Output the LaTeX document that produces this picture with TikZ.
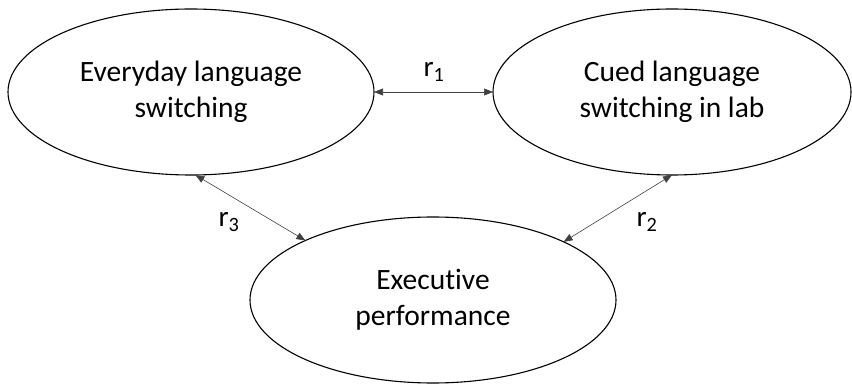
\documentclass[tikz,border=0pt]{standalone}
\usepackage{fontspec}
\setmainfont[Ligatures=NoCommon]{Carlito}
\usetikzlibrary{shapes.geometric,arrows.meta}

\begin{document}
\begin{tikzpicture}[x=1pt,y=-1pt]
			\tikzset{latent/.style={draw,ellipse,line width=1.1pt,minimum width=366pt,minimum height=166pt,
					inner sep=0pt,outer sep=0pt,align=center,font=\fontsize{29.5}{36}\selectfont}}
			\tikzset{corr/.style={{Triangle[length=9pt,width=7pt]}-{Triangle[length=9pt,width=7pt]},line width=0.6pt,draw=black!75}}
			\tikzset{rlab/.style={font=\fontsize{29}{30}\selectfont,inner sep=0pt}}
			%
			\useasboundingbox (0,0) rectangle (852,387);
			%
			\node[latent] (everyday) at (191,92) {Everyday language\\switching};
			\node[latent,minimum width=358pt] (cued) at (672,92) {Cued language\\switching in lab};
			\node[latent] (exec) at (433,300) {Executive\\performance};
			%
			\draw[corr] (everyday.east) -- (cued.west);
			\draw[corr] (everyday.-87) -- (exec.155);
			\draw[corr] (cued.-90) -- (exec.24);
			%
			\node[rlab] (r1) at (434,72) {r\textsubscript{1}};
			\node[rlab] (r3) at (229,222) {r\textsubscript{3}};
			\node[rlab] (r2) at (647,222) {r\textsubscript{2}};
			%
\end{tikzpicture}
\end{document}
